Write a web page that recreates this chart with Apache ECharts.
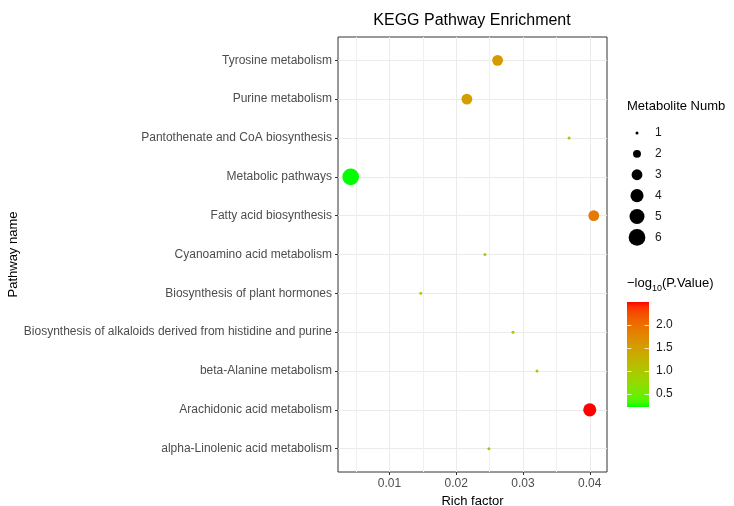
<!DOCTYPE html>
<html>
<head>
<meta charset="utf-8">
<title>KEGG Pathway Enrichment</title>
<script src="https://cdn.jsdelivr.net/npm/echarts@6/dist/echarts.min.js"></script>
<style>
  html, body { margin: 0; padding: 0; background: #ffffff; }
  #chart { width: 734px; height: 506px; }
</style>
</head>
<body>
<div id="chart"></div>
<script>
// Pathways, listed from the bottom row of the plot to the top row
const categories = [
  'alpha-Linolenic acid metabolism',
  'Arachidonic acid metabolism',
  'beta-Alanine metabolism',
  'Biosynthesis of alkaloids derived from histidine and purine',
  'Biosynthesis of plant hormones',
  'Cyanoamino acid metabolism',
  'Fatty acid biosynthesis',
  'Metabolic pathways',
  'Pantothenate and CoA biosynthesis',
  'Purine metabolism',
  'Tyrosine metabolism'
];
const richFactor    = [0.0249, 0.0400, 0.0321, 0.0285, 0.0147, 0.0243, 0.0406, 0.0042, 0.0369, 0.0216, 0.0262];
const metaboliteNum = [1, 4, 1, 1, 1, 1, 3, 6, 1, 3, 3];
const negLogP       = [0.98, 2.49, 1.06, 1.02, 0.78, 0.96, 1.90, 0.21, 1.10, 1.48, 1.55];

const xTicks = [0.01, 0.02, 0.03, 0.04];
const xMinorTicks = [0.005, 0.015, 0.025, 0.035];
const sizeLevels = [1, 2, 3, 4, 5, 6];
const colorBreaks = [0.5, 1.0, 1.5, 2.0];

const xRange = [0.0023, 0.04258];
const pRange = [Math.min(...negLogP), Math.max(...negLogP)];

const FONT = 'Liberation Sans, Arial, sans-serif';

// Point diameter: area grows linearly with the metabolite count
function sizeFor(n) { return Math.sqrt(9 + (n - 1) * 54); }

// ---- green -> red ramp interpolated in CIE Lab ----
function toLinear(c) { c /= 255; return c <= 0.04045 ? c / 12.92 : Math.pow((c + 0.055) / 1.055, 2.4); }
function toGamma(c) { const v = c <= 0.0031308 ? 12.92 * c : 1.055 * Math.pow(c, 1 / 2.4) - 0.055; return Math.max(0, Math.min(255, Math.round(v * 255))); }
const WHITE = [0.95047, 1.0, 1.08883];
function rgbToLab(rgb) {
  const [r, g, b] = rgb.map(toLinear);
  const xyz = [
    0.4124564 * r + 0.3575761 * g + 0.1804375 * b,
    0.2126729 * r + 0.7151522 * g + 0.0721750 * b,
    0.0193339 * r + 0.1191920 * g + 0.9503041 * b
  ];
  const f = xyz.map((v, i) => { const t = v / WHITE[i]; return t > 216 / 24389 ? Math.cbrt(t) : (24389 / 27 * t + 16) / 116; });
  return [116 * f[1] - 16, 500 * (f[0] - f[1]), 200 * (f[1] - f[2])];
}
function labToRgb(lab) {
  const fy = (lab[0] + 16) / 116, fx = fy + lab[1] / 500, fz = fy - lab[2] / 200;
  const inv = t => (t * t * t > 216 / 24389 ? t * t * t : (116 * t - 16) / (24389 / 27));
  const x = inv(fx) * WHITE[0], y = inv(fy) * WHITE[1], z = inv(fz) * WHITE[2];
  const r =  3.2404542 * x - 1.5371385 * y - 0.4985314 * z;
  const g = -0.9692660 * x + 1.8760108 * y + 0.0415560 * z;
  const b =  0.0556434 * x - 0.2040259 * y + 1.0572252 * z;
  return 'rgb(' + [r, g, b].map(toGamma).join(',') + ')';
}
const labLow = rgbToLab([0, 255, 0]);
const labHigh = rgbToLab([255, 0, 0]);
const rampStops = [];
for (let i = 0; i <= 24; i++) {
  const t = i / 24;
  rampStops.push(labToRgb(labLow.map((v, k) => v + (labHigh[k] - v) * t)));
}

const chart = echarts.init(document.getElementById('chart'), null, { renderer: 'canvas' });

const axisLabelStyle = { color: '#4d4d4d', fontSize: 12, fontFamily: FONT };

const option = {
  backgroundColor: '#ffffff',
  animation: false,
  textStyle: { fontFamily: FONT },
  graphic: [
    { type: 'text', x: 472, y: 13, style: { text: 'KEGG Pathway Enrichment', fontSize: 16, fontFamily: FONT, fill: '#000', textAlign: 'center', textVerticalAlign: 'top' } },
    { type: 'text', x: 627, y: 100, style: { text: 'Metabolite Numb', fontSize: 13, fontFamily: FONT, fill: '#000', textVerticalAlign: 'top' } },
    { type: 'text', x: 627, y: 277, style: {
        text: '{a|\u2212log}{s|10}{a|(P.Value)}',
        fontFamily: FONT, fill: '#000', textVerticalAlign: 'top',
        rich: {
          a: { fontSize: 13, fontFamily: FONT, fill: '#000', verticalAlign: 'top', lineHeight: 16 },
          s: { fontSize: 9, fontFamily: FONT, fill: '#000', verticalAlign: 'bottom', lineHeight: 16, padding: [8, 0, 0, 0] }
        }
      } }
  ],
  grid: [
    { left: 338, right: 127, top: 37, bottom: 34, show: true, borderColor: '#333333', borderWidth: 1, backgroundColor: 'transparent', outerBoundsMode: 'none' },
    { left: 627, top: 302, width: 22, height: 105, outerBoundsMode: 'none' },
    { left: 627, top: 122.5, width: 20, height: 125.4, outerBoundsMode: 'none' }
  ],
  xAxis: [
    {
      gridIndex: 0, type: 'value', min: xRange[0], max: xRange[1], position: 'bottom',
      name: 'Rich factor', nameLocation: 'middle', nameGap: 15,
      nameTextStyle: { color: '#000', fontSize: 13, fontFamily: FONT },
      axisLine: { show: false, onZero: false },
      axisTick: { show: true, length: 3, customValues: xTicks, lineStyle: { color: '#333333' } },
      axisLabel: { customValues: xTicks, margin: 6, formatter: v => String(Number(v.toFixed(3))), ...axisLabelStyle },
      splitLine: { show: true, lineStyle: { color: '#ebebeb', width: 1 } },
      z: 1
    },
    {
      gridIndex: 0, type: 'value', min: xRange[0], max: xRange[1], position: 'bottom',
      axisLine: { show: false, onZero: false },
      axisTick: { show: false, customValues: xMinorTicks },
      axisLabel: { show: false, customValues: xMinorTicks },
      splitLine: { show: true, lineStyle: { color: '#f0f0f0', width: 1 } },
      z: 0
    },
    { gridIndex: 1, type: 'value', min: 0, max: 1, show: false },
    { gridIndex: 2, type: 'value', min: 0, max: 1, show: false }
  ],
  yAxis: [
    {
      gridIndex: 0, type: 'value', min: -0.6, max: categories.length - 0.4, position: 'left',
      name: 'Pathway name', nameLocation: 'middle', nameGap: 315,
      nameTextStyle: { color: '#000', fontSize: 13, fontFamily: FONT },
      axisLine: { show: false, onZero: false },
      axisTick: { show: true, length: 3, customValues: categories.map((c, i) => i), lineStyle: { color: '#333333' } },
      axisLabel: { customValues: categories.map((c, i) => i), margin: 6, formatter: v => categories[Math.round(v)], ...axisLabelStyle },
      splitLine: { show: true, lineStyle: { color: '#ebebeb', width: 1 } }
    },
    {
      gridIndex: 1, type: 'value', min: pRange[0], max: pRange[1], position: 'right',
      axisLine: { show: false, onZero: false }, axisTick: { show: false, customValues: colorBreaks }, splitLine: { show: false },
      axisLabel: { customValues: colorBreaks, margin: 7, formatter: v => v.toFixed(1), color: '#1a1a1a', fontSize: 12, fontFamily: FONT }
    },
    {
      gridIndex: 2, type: 'value', min: 0.5, max: 6.5, inverse: true, position: 'right',
      axisLine: { show: false, onZero: false }, axisTick: { show: false, customValues: sizeLevels }, splitLine: { show: false },
      axisLabel: { customValues: sizeLevels, margin: 8, formatter: v => String(v), color: '#1a1a1a', fontSize: 12, fontFamily: FONT }
    }
  ],
  visualMap: {
    show: false, type: 'continuous', seriesIndex: 0, dimension: 2,
    min: pRange[0], max: pRange[1], inRange: { color: rampStops }
  },
  series: [
    {
      name: 'pathways', type: 'scatter', xAxisIndex: 0, yAxisIndex: 0,
      data: categories.map((c, i) => [richFactor[i], i, negLogP[i], metaboliteNum[i]]),
      symbol: 'circle',
      symbolSize: v => sizeFor(v[3]),
      itemStyle: { opacity: 1, borderWidth: 0 },
      emphasis: { disabled: true },
      z: 5
    },
    {
      name: 'size legend', type: 'scatter', xAxisIndex: 3, yAxisIndex: 2,
      data: sizeLevels.map(n => [0.5, n]),
      symbol: 'circle',
      symbolSize: v => sizeFor(v[1]),
      itemStyle: { color: '#000000', opacity: 1 },
      emphasis: { disabled: true },
      silent: true
    },
    {
      name: 'colour bar', type: 'custom', xAxisIndex: 2, yAxisIndex: 1,
      data: [[0, pRange[0], 1, pRange[1]]],
      silent: true,
      renderItem: function (params, api) {
        const p0 = api.coord([api.value(0), api.value(1)]);
        const p1 = api.coord([api.value(2), api.value(3)]);
        const x = p0[0], y = p1[1], w = p1[0] - p0[0], h = p0[1] - p1[1];
        const children = [{
          type: 'rect',
          shape: { x: x, y: y, width: w, height: h },
          style: {
            fill: new echarts.graphic.LinearGradient(0, 1, 0, 0,
              rampStops.map((c, i) => ({ offset: i / (rampStops.length - 1), color: c })))
          }
        }];
        colorBreaks.forEach(b => {
          const yy = Math.round(api.coord([0, b])[1]) + 0.5;
          children.push({ type: 'line', shape: { x1: x, y1: yy, x2: x + w * 0.2, y2: yy }, style: { stroke: '#ffffff', lineWidth: 1, opacity: 0.8 } });
          children.push({ type: 'line', shape: { x1: x + w * 0.8, y1: yy, x2: x + w, y2: yy }, style: { stroke: '#ffffff', lineWidth: 1, opacity: 0.8 } });
        });
        return { type: 'group', children: children };
      }
    }
  ]
};

chart.setOption(option);
</script>
</body>
</html>
